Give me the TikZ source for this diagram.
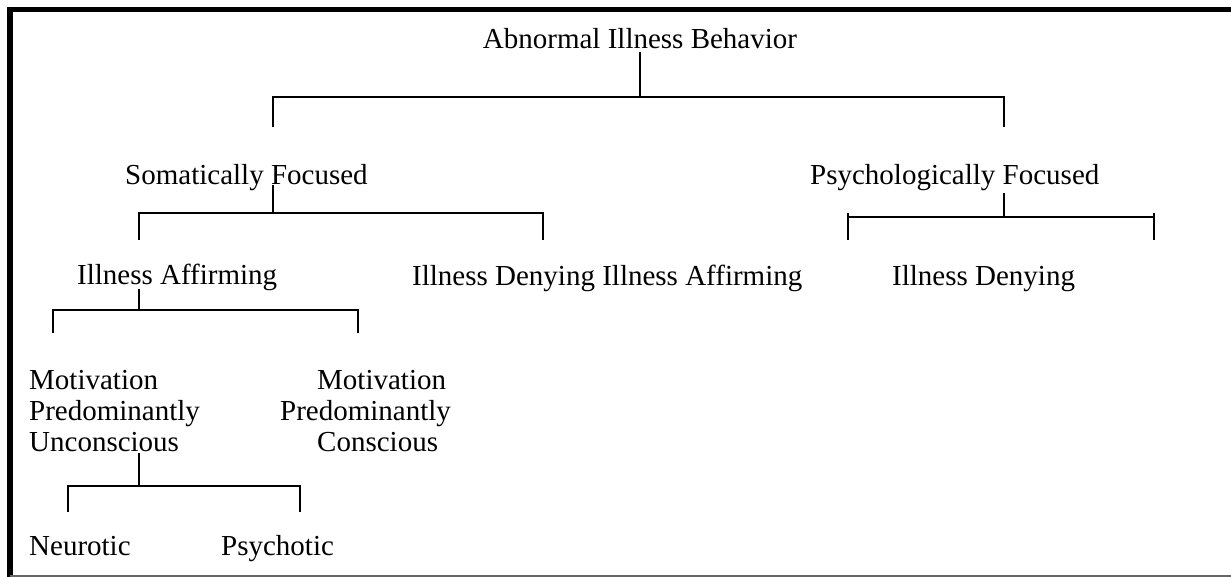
\documentclass[tikz,border=0pt]{standalone}
\usepackage{fontspec}
\setmainfont{Liberation Serif}
\begin{document}
\begin{tikzpicture}[x=1pt,y=-1pt,
    every node/.style={inner sep=0pt, font=\fontsize{29}{31}\selectfont},
    branch/.style={line width=1.6pt}]
  \useasboundingbox (0,0) rectangle (1231,577);
  % frame: heavy left and top rule, thin grey bottom rule
  \draw[line width=5.5pt] (10,577) -- (10,9.5) -- (1231,9.5);
  \draw[line width=1.5pt, black!60] (10,576) -- (1231,576);

  % labels
  \node[anchor=base] (abn) at (640,49) {Abnormal Illness Behavior};
  \node[anchor=base west] (soma) at (125,185) {Somatically Focused};
  \node[anchor=base west] (psych) at (810,185) {Psychologically Focused};
  \node[anchor=base west] (saff) at (77,285) {Illness Affirming};
  \node[anchor=base west] (mid) at (412,286) {Illness Denying Illness Affirming};
  \node[anchor=base west] (pden) at (892,286) {Illness Denying};
  \node[anchor=base west, align=left] (uncon) at (29,451)
      {Motivation\\Predominantly\\Unconscious};  % base = last line
  \node[anchor=base west, align=left] (con) at (280,451)
      {\hspace{37pt}Motivation\\Predominantly\\\hspace{37pt}Conscious};
  \node[anchor=base west] (neur) at (29,555) {Neurotic};
  \node[anchor=base west] (psyc) at (221,555) {Psychotic};

  % junctions and free ends of the brackets
  \coordinate (jA) at (640,97);
  \coordinate (dA1) at (273,127);  \coordinate (dA2) at (1004,127);
  \coordinate (jS) at (273,213);
  \coordinate (dS1) at (139,240);  \coordinate (dS2) at (543,240);
  \coordinate (jP) at (1004,217);
  \coordinate (pL) at (848,217);   \coordinate (pR) at (1154,217);
  \coordinate (jI) at (139,310);
  \coordinate (dI1) at (53,333);   \coordinate (dI2) at (358,333);
  \coordinate (jU) at (139,486);
  \coordinate (dU1) at (68,512);   \coordinate (dU2) at (300,512);

  % stems
  \draw[branch] (abn.base -| jA) ++(0,3) -- (jA);
  \draw[branch] (soma.base -| jS) -- (jS);
  \draw[branch] (psych.base -| jP) ++(0,8) -- (jP);
  \draw[branch] (saff.base -| jI) ++(0,4) -- (jI);
  \draw[branch] (uncon.base -| jU) ++(0,2) -- (jU);

  % bars with their drops
  \draw[branch] (dA1) |- (jA) -| (dA2);
  \draw[branch] (dS1) |- (jS) -| (dS2);
  \draw[branch] (dI1) |- (jI) -| (dI2);
  \draw[branch] (dU1) |- (jU) -| (dU2);
  \draw[branch] (pL) -- (pR);
  \foreach \c in {pL,pR}
  {
      \draw[branch] (\c) ++(0,-4) -- ++(0,27);  % end ticks
  }
\end{tikzpicture}
\end{document}
